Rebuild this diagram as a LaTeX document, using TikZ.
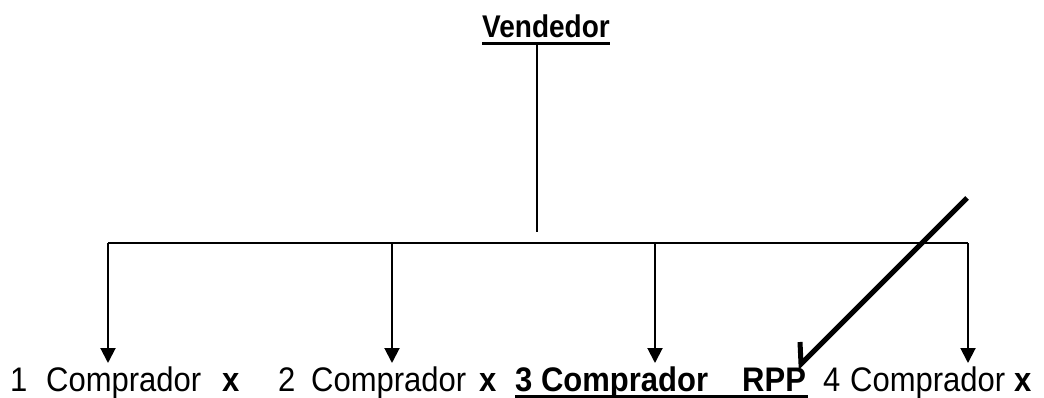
\documentclass[tikz,border=0pt]{standalone}
\usepackage{fontspec}
\usepackage{graphicx}
\setmainfont{Liberation Sans}
\usetikzlibrary{arrows.meta}
\newcommand{\tallb}[1]{\scalebox{1}[1.1]{#1}}
\newcommand{\tallv}[1]{\scalebox{1}[1.12]{#1}}
\begin{document}
\begin{tikzpicture}[x=1pt,y=-1pt,
  txt/.style={inner sep=0pt,anchor=base west,font=\fontsize{31}{37}\selectfont},
  btxt/.style={txt,font=\fontsize{31}{37}\selectfont\bfseries},
  conn/.style={line width=2pt},
  arr/.style={conn,-{Triangle[width=15pt,length=15pt]}},
  ulin/.style={line width=3pt},
  chk/.style={line width=5pt}]
\useasboundingbox (0,0) rectangle (1044,398);
% top
\node[inner sep=0pt,anchor=base,font=\fontsize{28}{34}\selectfont\bfseries] (vend) at (546,38) {\tallv{Vendedor}};
\draw[ulin] (482,44) -- (610,44);
\coordinate (vtop) at (537,44);
\coordinate (vbot) at (537,232);
\draw[conn] (vtop) -- (vbot);
% bus
\coordinate (b1) at (108,243);
\coordinate (b2) at (392,243);
\coordinate (b3) at (655,243);
\coordinate (b4) at (968,243);
\coordinate (e1) at (108,363);
\coordinate (e2) at (392,363);
\coordinate (e3) at (655,363);
\coordinate (e4) at (968,363);
\draw[conn] (b1) -- (b4);
\draw[arr] (b1) -- (e1);
\draw[arr] (b2) -- (e2);
\draw[arr] (b3) -- (e3);
\draw[arr] (b4) -- (e4);
% bottom texts
\node[txt] (n1) at (10,391) {\tallb{1}};
\node[txt] (c1) at (46,391) {\tallb{Comprador}};
\node[btxt] (x1) at (222,391) {\tallb{x}};
\node[txt] (n2) at (278,391) {\tallb{2}};
\node[txt] (c2) at (311,391) {\tallb{Comprador}};
\node[btxt] (x2) at (479,391) {\tallb{x}};
\node[btxt] (c3) at (515,391) {\tallb{3 Comprador}};
\node[btxt] (rpp) at (742,391) {\tallb{RPP}};
\node[txt] (n4) at (823,391) {\tallb{4}};
\node[txt] (c4) at (850,391) {\tallb{Comprador}};
\node[btxt] (x4) at (1014,391) {\tallb{x}};
\draw[ulin] (515,396.5) -- (808,396.5);
% check mark
\coordinate (k1) at (800,342);
\coordinate (k2) at (801,364);
\coordinate (k3) at (967,198);
\draw[chk] (k1) -- (k2) -- (k3);
\end{tikzpicture}
\end{document}
